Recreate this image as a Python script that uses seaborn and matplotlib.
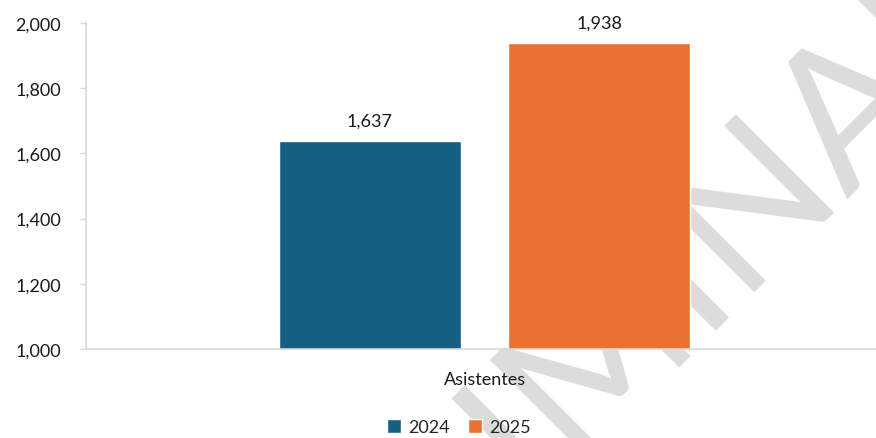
import matplotlib
matplotlib.use('Agg')
import matplotlib.pyplot as plt
from matplotlib.ticker import FuncFormatter
import pandas as pd
import seaborn as sns

categorias = ['Asistentes', 'Asistentes']
anios = ['2024', '2025']
valores = [1637, 1938]
colores = ['#156082', '#E97132']
y_ticks = [1000, 1200, 1400, 1600, 1800, 2000]

df = pd.DataFrame({'categoria': categorias, 'anio': anios, 'valor': valores})

sns.set_style('white')
plt.rcParams['font.family'] = ['Lato', 'DejaVu Sans']

fig = plt.figure(figsize=(8.76, 4.39), dpi=100)

# marca de agua detras de todo (empieza fuera de la figura, abajo a la izquierda)
fig.text(0.245, -0.857, 'PRELIMINAR', rotation=45, fontsize=140, color='#dcdcdc',
         ha='left', va='baseline', rotation_mode='anchor', zorder=-1)

ax = fig.add_axes([86 / 876, 89 / 439, 797 / 876, 326 / 439])
ax.set_facecolor('none')

sns.barplot(data=df, x='categoria', y='valor', hue='anio', palette=colores,
            width=0.575, gap=0.207, saturation=1, ax=ax)

for c in ax.containers:
    ax.bar_label(c, labels=[f'{v:,.0f}' for v in c.datavalues], padding=9,
                 fontsize=13, color='#1a1a1a')

ax.set_ylim(1000, 2000)
ax.set_xlim(-0.5, 0.5)
ax.set_yticks(y_ticks)
ax.yaxis.set_major_formatter(FuncFormatter(lambda x, p: f'{x:,.0f}'))
ax.set_xlabel('')
ax.set_ylabel('')

sns.despine(ax=ax)
for s in ['left', 'bottom']:
    ax.spines[s].set_color('#d9d9d9')
    ax.spines[s].set_linewidth(1.2)

ax.tick_params(axis='y', left=True, length=4, width=1, color='#d9d9d9',
               pad=14, labelsize=13, labelcolor='#1a1a1a')
ax.tick_params(axis='x', bottom=False, length=0, pad=16, labelsize=13,
               labelcolor='#1a1a1a')

ax.legend(loc='lower center', bbox_to_anchor=(459 / 876, -0.03),
          bbox_transform=fig.transFigure, ncol=2, frameon=False,
          handlelength=0.8, handleheight=0.8, handletextpad=0.4,
          columnspacing=1.0, fontsize=13)

fig.savefig('out.png', dpi=100)
